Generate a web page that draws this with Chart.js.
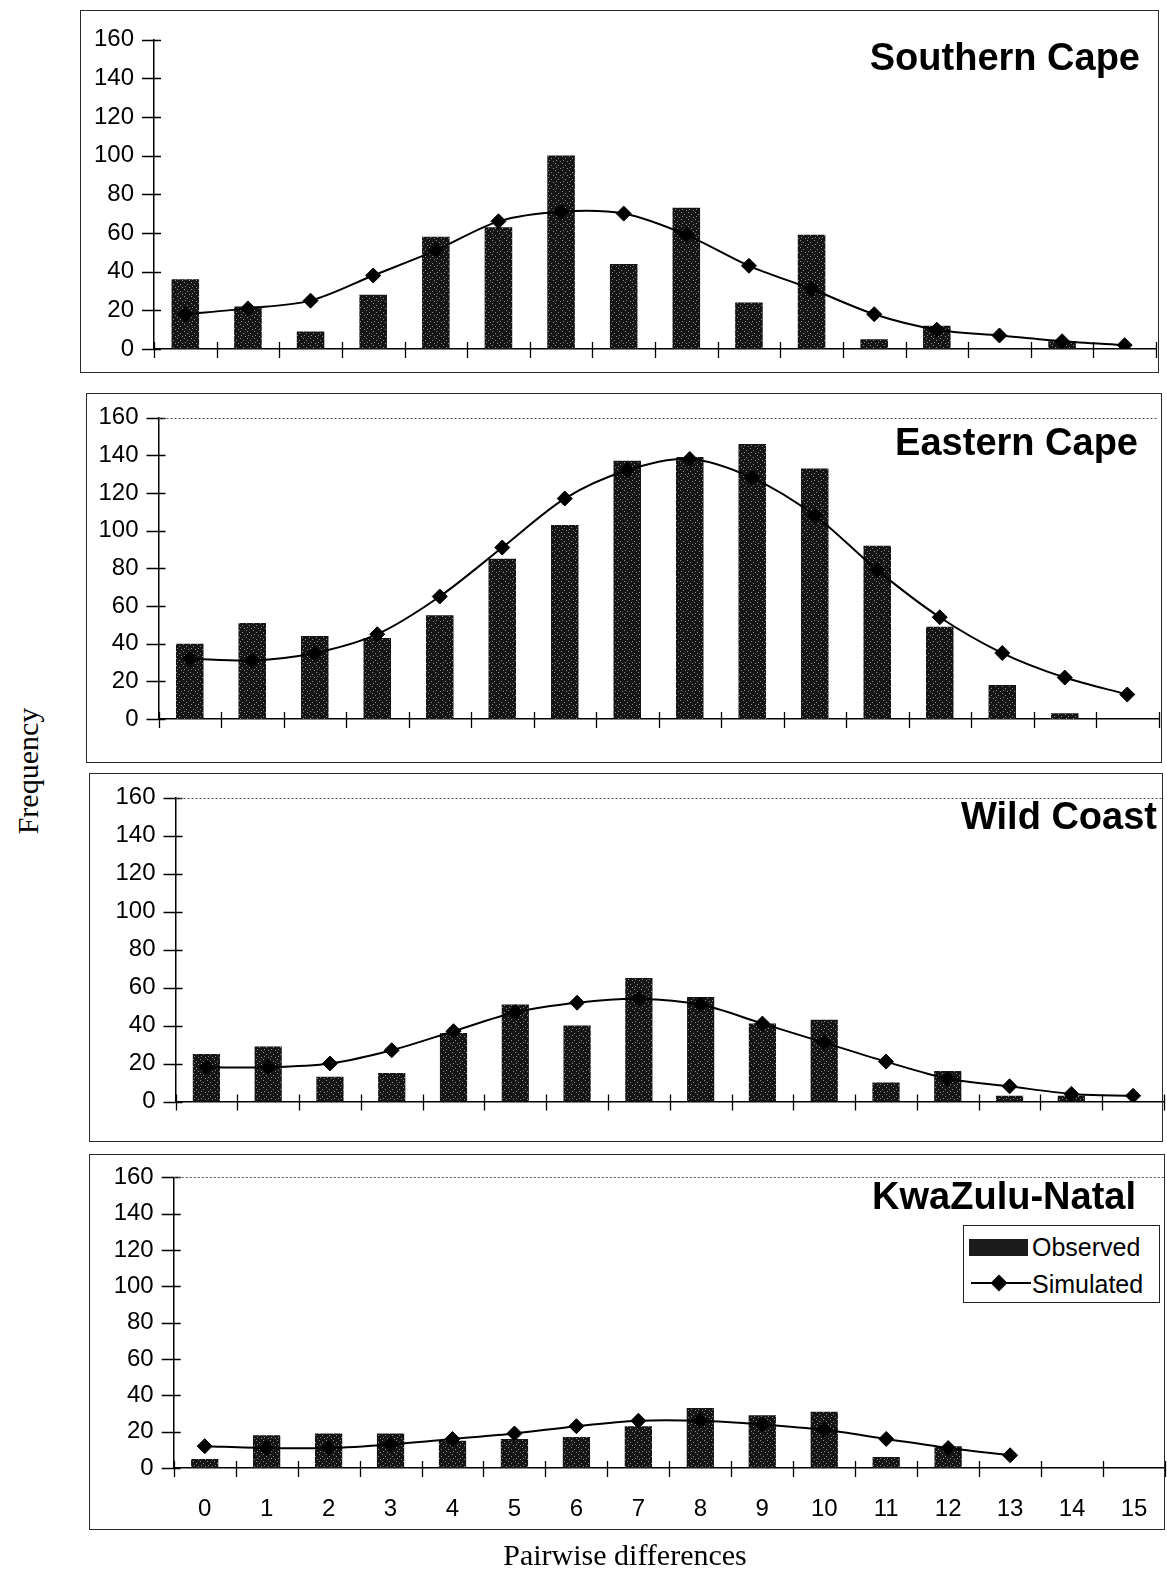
<!DOCTYPE html>
<html>
<head>
<meta charset="utf-8">
<script src="https://cdn.jsdelivr.net/npm/chart.js@4.4.1/dist/chart.umd.min.js"></script>
<style>
html,body{margin:0;padding:0;background:#fff;}
body{width:1167px;height:1571px;overflow:hidden;position:relative;}
canvas{position:absolute;}
.box{position:absolute;border:1.5px solid #2a2a2a;box-sizing:border-box;pointer-events:none;}
.title{position:absolute;font-family:"Liberation Sans",Arial,sans-serif;font-weight:bold;font-size:38px;line-height:38px;white-space:nowrap;color:#000;text-align:right;}
.serif{position:absolute;font-family:"Liberation Serif","Times New Roman",serif;font-size:30px;line-height:30px;white-space:nowrap;color:#000;}
.legend{position:absolute;left:963px;top:1225px;width:197px;height:78px;border:1.3px solid #222;box-sizing:border-box;background:#fff;font-family:"Liberation Sans",Arial,sans-serif;font-size:25px;line-height:25px;color:#000;}
.legend .sw{position:absolute;left:5px;top:13px;width:59px;height:17px;background:#1c1c1c;}
.legend .ln{position:absolute;left:7px;top:56px;width:60px;height:2px;background:#000;}
.legend .dm{position:absolute;left:29px;top:51px;width:12px;height:12px;background:#000;transform:rotate(45deg);}
.legend .t{position:absolute;left:68px;white-space:nowrap;}
</style>
</head>
<body>
<div class="title" style="right:27px;top:37.8px;">Southern Cape</div>
<div class="title" style="right:29px;top:422.8px;">Eastern Cape</div>
<div class="title" style="right:10px;top:796.8px;">Wild Coast</div>
<div class="title" style="right:31px;top:1176.8px;">KwaZulu-Natal</div>
<div class="serif" style="left:28px;top:771px;transform:translate(-50%,-50%) rotate(-90deg);">Frequency</div>
<div class="serif" style="left:625px;top:1540px;transform:translateX(-50%);">Pairwise differences</div>
<div class="legend">
  <div class="sw"></div><div class="t" style="top:8.8px;">Observed</div>
  <div class="ln"></div><div class="dm"></div><div class="t" style="top:45.8px;">Simulated</div>
</div>
<script>
// ---- data ----
const categories = ['0','1','2','3','4','5','6','7','8','9','10','11','12','13','14','15'];
const yTickStep = 20;
const yMax = 160;

const southernCapeObserved  = [36, 22, 9, 28, 58, 63, 100, 44, 73, 24, 59, 5, 12, 0, 4, 0];
const southernCapeSimulated = [18, 21, 25, 38, 51, 66, 71, 70, 59, 43, 31, 18, 10, 7, 4, 2];

const easternCapeObserved  = [40, 51, 44, 43, 55, 85, 103, 137, 139, 146, 133, 92, 49, 18, 3, 0];
const easternCapeSimulated = [32, 31, 35, 45, 65, 91, 117, 132, 138, 128, 108, 79, 54, 35, 22, 13];

const wildCoastObserved  = [25, 29, 13, 15, 36, 51, 40, 65, 55, 41, 43, 10, 16, 3, 3, 0];
const wildCoastSimulated = [18, 18, 20, 27, 37, 47, 52, 54, 51, 41, 31, 21, 12, 8, 4, 3];

const kwaZuluNatalObserved  = [5, 18, 19, 19, 15, 16, 17, 23, 33, 29, 31, 6, 12, 0, 0, 0];
const kwaZuluNatalSimulated = [12, 11, 11, 13, 16, 19, 23, 26, 26, 24, 21, 16, 11, 7, null, null];

// ---- styling helpers ----
function stipple() {
  const c = document.createElement('canvas');
  c.width = 7; c.height = 7;
  const g = c.getContext('2d');
  g.fillStyle = '#151515'; g.fillRect(0, 0, 7, 7);
  g.fillStyle = '#8a8a8a';
  g.fillRect(1, 1, 1, 1); g.fillRect(4, 3, 1, 1); g.fillRect(2, 5, 1, 1); g.fillRect(6, 6, 1, 1);
  return g.createPattern(c, 'repeat');
}
const barFill = stipple();
const tickFont = {family: '"Liberation Sans", Arial, sans-serif', size: 24};

const crossTicks = {
  id: 'crossTicks',
  afterDraw(chart, args, opts) {
    const {ctx, chartArea: a, scales: {x, y}} = chart;
    ctx.save();
    ctx.strokeStyle = '#000';
    ctx.lineWidth = 1.3;
    const y0 = y.getPixelForValue(0);
    const w = x.getPixelForValue(1) - x.getPixelForValue(0);
    const start = x.getPixelForValue(0) - w / 2;
    ctx.beginPath();
    for (let k = 0; k <= categories.length; k++) {
      const px = Math.round(start + k * w) + 0.5;
      ctx.moveTo(px, y0 - 7); ctx.lineTo(px, y0 + 9);
    }
    y.ticks.forEach(t => {
      const py = Math.round(y.getPixelForValue(t.value)) + 0.5;
      ctx.moveTo(a.left - 12, py); ctx.lineTo(a.left + 7, py);
    });
    ctx.stroke();
    if (opts && opts.dottedTop) {
      ctx.beginPath();
      ctx.setLineDash([2, 2]);
      ctx.strokeStyle = '#555';
      ctx.lineWidth = 1.2;
      const py = Math.round(y.getPixelForValue(yMax)) + 0.5;
      ctx.moveTo(a.left, py); ctx.lineTo(a.right, py);
      ctx.stroke();
    }
    ctx.restore();
  }
};

function makePanel(box, area, observed, simulated, showX, dottedTop) {
  const M = 30;
  const cw = box.r - box.l + 2 * M, ch = box.b - box.t + 2 * M;
  const cv = document.createElement('canvas');
  cv.width = cw; cv.height = ch;
  cv.style.left = (box.l - M) + 'px'; cv.style.top = (box.t - M) + 'px';
  cv.style.width = cw + 'px'; cv.style.height = ch + 'px';
  document.body.insertBefore(cv, document.body.firstChild);
  const bd = document.createElement('div');
  bd.className = 'box';
  bd.style.left = box.l + 'px'; bd.style.top = box.t + 'px';
  bd.style.width = (box.r - box.l) + 'px'; bd.style.height = (box.b - box.t) + 'px';
  document.body.appendChild(bd);

  const yW = area.l - (box.l - M);
  const xH = (box.b + M) - area.b;
  const padTop = area.t - (box.t - M);
  const padRight = (box.r + M) - area.r;

  new Chart(cv, {
    data: {
      labels: categories,
      datasets: [
        {type: 'line', label: 'Simulated', data: simulated, order: 0,
         borderColor: '#000', borderWidth: 2, tension: 0.3, fill: false,
         pointStyle: 'rectRot', pointRadius: 7.5, pointBackgroundColor: '#000',
         pointBorderColor: '#000', pointBorderWidth: 1},
        {type: 'bar', label: 'Observed', data: observed, order: 1,
         backgroundColor: barFill, borderWidth: 0, barPercentage: 0.44, categoryPercentage: 1}
      ]
    },
    options: {
      responsive: false, animation: false, devicePixelRatio: 1,
      layout: {padding: {left: 0, top: padTop, right: padRight, bottom: 0}},
      plugins: {legend: {display: false}, tooltip: {enabled: false}, crossTicks: {dottedTop: dottedTop}},
      scales: {
        x: {type: 'category', offset: true,
            grid: {display: false, drawTicks: false},
            border: {display: true, color: '#000', width: 1.5},
            ticks: {display: showX, padding: 27, font: tickFont, color: '#000', maxRotation: 0, autoSkip: false},
            afterFit: s => { s.height = xH; }},
        y: {min: 0, max: yMax,
            grid: {display: false, drawTicks: false},
            border: {display: true, color: '#000', width: 1.5},
            ticks: {stepSize: yTickStep, padding: 20, font: tickFont, color: '#000'},
            afterFit: s => { s.width = yW; }}
      }
    },
    plugins: [crossTicks]
  });
}

makePanel({l: 80, t: 10, r: 1159, b: 373}, {l: 154, t: 39.5, r: 1156, b: 349},
          southernCapeObserved, southernCapeSimulated, false, false);
makePanel({l: 86, t: 393, r: 1162, b: 763}, {l: 158.5, t: 417.5, r: 1158.5, b: 719},
          easternCapeObserved, easternCapeSimulated, false, true);
makePanel({l: 89, t: 773, r: 1163, b: 1142}, {l: 175.5, t: 797.5, r: 1164, b: 1101.5},
          wildCoastObserved, wildCoastSimulated, false, true);
makePanel({l: 89, t: 1154, r: 1165, b: 1530}, {l: 173.7, t: 1177.3, r: 1165, b: 1468},
          kwaZuluNatalObserved, kwaZuluNatalSimulated, true, true);
</script>
</body>
</html>
